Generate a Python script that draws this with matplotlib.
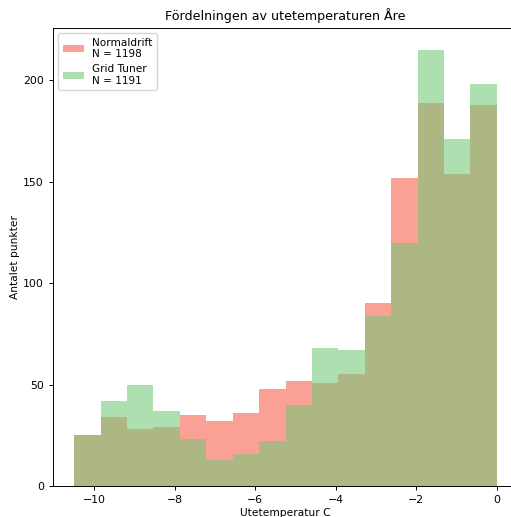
import numpy as np
import matplotlib
matplotlib.use("Agg")
import matplotlib.pyplot as plt

bin_edges = np.linspace(-10.5, 0.0, 17)
normaldrift = [25, 34, 28, 29, 35, 32, 36, 48, 52, 51, 55, 90, 152, 189, 154, 188]
grid_tuner = [25, 42, 50, 37, 23, 13, 16, 22, 40, 68, 67, 84, 120, 215, 171, 198]
labels = ["Normaldrift\nN = 1198", "Grid Tuner\nN = 1191"]

centers = (bin_edges[:-1] + bin_edges[1:]) / 2

fig = plt.figure(figsize=(5.11, 5.17), dpi=100)
ax = fig.add_axes([53/511, (517-486)/517, (518-53)/511, (486-28)/517])

ax.hist(centers, bins=bin_edges, weights=normaldrift, color="#F7614F", alpha=0.6, label=labels[0])
ax.hist(centers, bins=bin_edges, weights=grid_tuner, color="#74C979", alpha=0.58, label=labels[1])

ax.set_title("Fördelningen av utetemperaturen Åre", fontsize=9.1)
ax.set_xlabel("Utetemperatur C", fontsize=7.7, labelpad=2)
ax.set_ylabel("Antalet punkter", fontsize=7.7, labelpad=2)
ax.tick_params(labelsize=7.8, length=3, width=0.7)
ax.set_yticks([0, 50, 100, 150, 200])
ax.set_xticks([-10, -8, -6, -4, -2, 0])
for s in ax.spines.values():
    s.set_linewidth(0.7)
ax.legend(loc="upper left", fontsize=7.6, handlelength=2)

fig.savefig("out.png", dpi=100)
